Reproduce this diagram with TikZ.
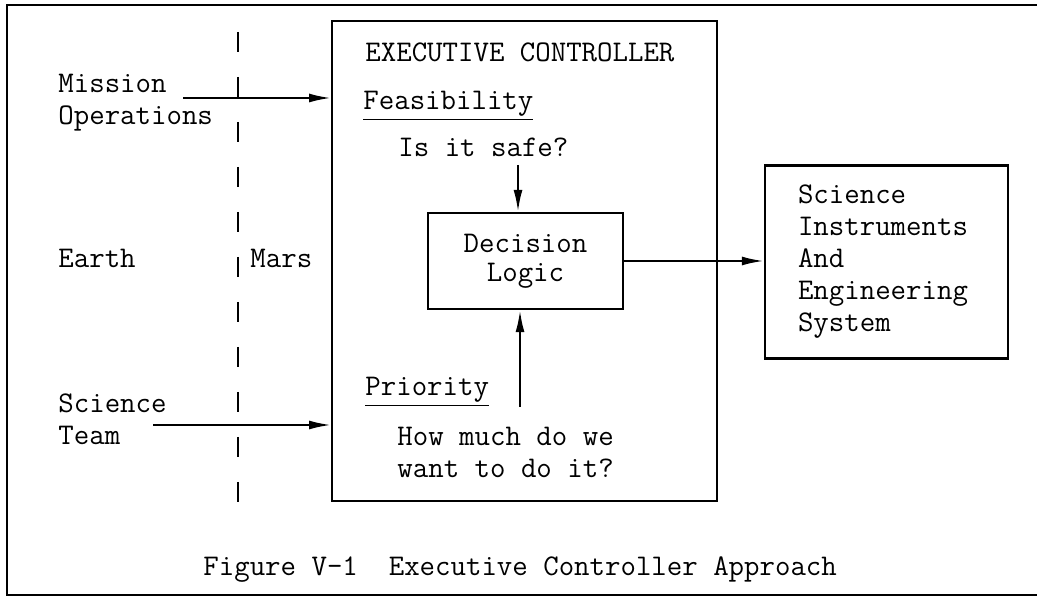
\documentclass[tikz,border=0pt]{standalone}
\usetikzlibrary{arrows.meta, positioning, calc}
\tikzset{
  block/.style={rectangle, draw=black, line width=1.2pt, inner sep=0pt},
  label/.style={inner sep=0pt, anchor=base west, align=left},
  arrow/.style={-{Latex[length=11pt,width=4.5pt]}, line width=1.1pt},
  border/.style={line width=1pt},
  divide/.style={line width=1.1pt, dash pattern=on 10pt off 12.5pt},
}

\begin{document}
\begin{tikzpicture}[x=0.5pt, y=-0.5pt, font=\fontsize{15}{16}\selectfont\ttfamily]
        \useasboundingbox (0,0) rectangle (1037,597);
        % outer frame
        \draw[border] (1037,5) -- (7,5) -- (7,595) -- (1037,595);

        % Earth / Mars divide
        \draw[divide] (238,32) -- (238,507);
        \node[label] (earth) at (58,268) {Earth};
        \node[label] (mars) at (250,268) {Mars};

        % boxes
        \node[block, anchor=north west, minimum width=192.5pt, minimum height=240pt] (exec) at (331,20) {};
        \node[block, minimum width=97.5pt, minimum height=48pt, align=center,
              font=\fontsize{15}{14.5}\selectfont\ttfamily] (dec) at (525.5,261) {Decision\\Logic};
        \node[block, minimum width=121.5pt, minimum height=96.5pt, text width=88.5pt, align=left] (inst) at (886.5,262)
          {Science\\Instruments\\And\\Engineering\\System};

        % texts inside the controller
        \node[label] (title) at (365,62) {EXECUTIVE CONTROLLER};
        \node[label] (feas) at (363,110) {\underline{Feasibility}};
        \node[label] (safe) at (398,157) {Is it safe?};
        \node[label] (prio) at (365,396) {\underline{Priority}};
        \node[label] (much) at (397,478) {How much do we\\want to do it?};

        % inputs from Earth
        \node[label] (ops) at (58,125) {Mission\\Operations};
        \node[label] (team) at (58,445) {Science\\Team};
        \coordinate (opsout) at (183,98);
        \coordinate (teamout) at (153,425);
        \draw[arrow] (opsout) -- (opsout -| exec.west);
        \draw[arrow] (teamout) -- (teamout -| exec.west);

        % into and out of the decision logic
        \coordinate (safeout) at (518,165);
        \coordinate (prioout) at (520,407);
        \draw[arrow] (safeout) -- (safeout |- dec.north);
        \draw[arrow] (prioout) -- (prioout |- dec.south);
        \draw[arrow] (dec.east) -- (dec.east -| inst.west);

        % caption
        \node[label] (caption) at (203,575) {Figure V-1\ \ Executive Controller Approach};
      \end{tikzpicture}
\end{document}
